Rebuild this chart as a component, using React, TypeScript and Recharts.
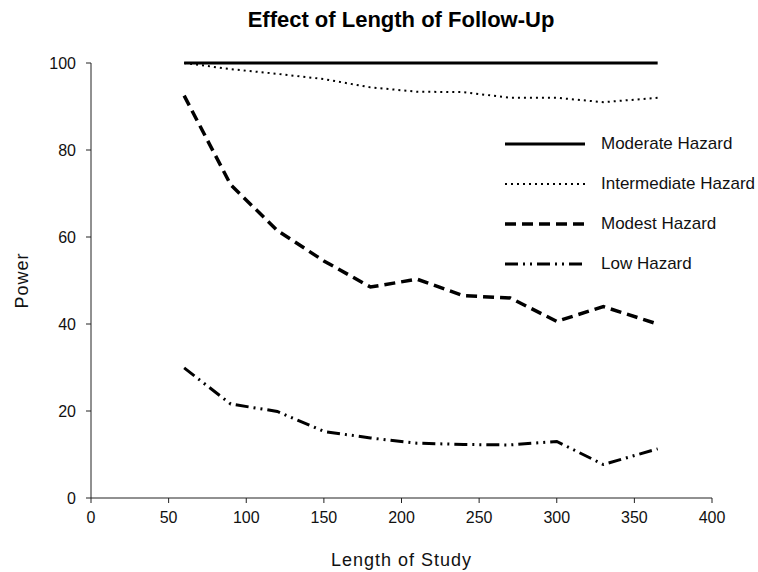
import { LineChart, Line, XAxis, YAxis, Label } from 'recharts';

// Effect of length of follow-up on power, four hazard levels

const studyLength = [60, 90, 120, 150, 180, 210, 240, 270, 300, 330, 365];
const moderateHazard = [100, 100, 100, 100, 100, 100, 100, 100, 100, 100, 100];
const intermediateHazard = [100, 98.6, 97.5, 96.3, 94.4, 93.4, 93.3, 92, 92, 91, 92];
const modestHazard = [92.5, 72, 61.5, 54.5, 48.5, 50.3, 46.5, 46, 40.6, 44, 40];
const lowHazard = [29.9, 21.6, 19.9, 15.3, 13.8, 12.6, 12.3, 12.2, 13, 7.7, 11.3];

const xTicks = [0, 50, 100, 150, 200, 250, 300, 350, 400];
const yTicks = [0, 20, 40, 60, 80, 100];

const seriesNames = ['Moderate Hazard', 'Intermediate Hazard', 'Modest Hazard', 'Low Hazard'];

const data = studyLength.map((d, i) => ({
  days: d,
  moderate: moderateHazard[i],
  intermediate: intermediateHazard[i],
  modest: modestHazard[i],
  low: lowHazard[i],
}));

const FONT = '"Liberation Sans", Arial, sans-serif';

const lineStyles = [
  { key: 'moderate', width: 3, dash: undefined },
  { key: 'intermediate', width: 2, dash: '2 4' },
  { key: 'modest', width: 3.5, dash: '11 6' },
  { key: 'low', width: 3, dash: '13 5 2 5 2 5' },
];

function LegendBox() {
  return (
    <div style={{ position: 'absolute', left: 505, top: 124, fontFamily: FONT }}>
      {seriesNames.map((name, i) => (
        <div key={name} style={{ display: 'flex', alignItems: 'center', height: 40 }}>
          <svg width={80} height={10}>
            <line
              x1={0}
              y1={5}
              x2={80}
              y2={5}
              stroke="#000"
              strokeWidth={lineStyles[i].width}
              strokeDasharray={lineStyles[i].dash}
            />
          </svg>
          <span style={{ marginLeft: 16, fontSize: 17, color: '#111', whiteSpace: 'nowrap' }}>{name}</span>
        </div>
      ))}
    </div>
  );
}

export default function App() {
  return (
    <div style={{ position: 'absolute', left: 0, top: 0, width: 758, height: 572, background: '#fff', overflow: 'hidden' }}>
      <div
        style={{
          position: 'absolute',
          top: 7,
          left: 0,
          width: 802,
          textAlign: 'center',
          fontFamily: FONT,
          fontWeight: 'bold',
          fontSize: 22,
          color: '#000',
        }}
      >
        Effect of Length of Follow-Up
      </div>
      <LineChart
        width={758}
        height={572}
        data={data}
        margin={{ top: 63, right: 46, bottom: 44, left: 41 }}
      >
        <XAxis
          dataKey="days"
          type="number"
          domain={[0, 400]}
          ticks={xTicks}
          height={30}
          tickSize={5}
          tickMargin={9}
          stroke="#222"
          tick={{ fill: '#111', fontSize: 16, fontFamily: FONT }}
        >
          <Label
            value="Length of Study"
            position="insideBottom"
            offset={-38}
            style={{ fill: '#111', fontSize: 18, letterSpacing: 1, fontFamily: FONT }}
          />
        </XAxis>
        <YAxis
          type="number"
          domain={[0, 100]}
          ticks={yTicks}
          width={50}
          tickSize={5}
          tickMargin={10}
          stroke="#222"
          tick={{ fill: '#111', fontSize: 16, fontFamily: FONT }}
        >
          <Label
            value="Power"
            angle={-90}
            position="insideLeft"
            offset={-19}
            style={{ fill: '#111', fontSize: 18, letterSpacing: 1, fontFamily: FONT, textAnchor: 'middle' }}
          />
        </YAxis>
        {lineStyles.map((s) => (
          <Line
            key={s.key}
            dataKey={s.key}
            stroke="#000"
            strokeWidth={s.width}
            strokeDasharray={s.dash}
            dot={false}
            activeDot={false}
            isAnimationActive={false}
          />
        ))}
      </LineChart>
      <LegendBox />
    </div>
  );
}
